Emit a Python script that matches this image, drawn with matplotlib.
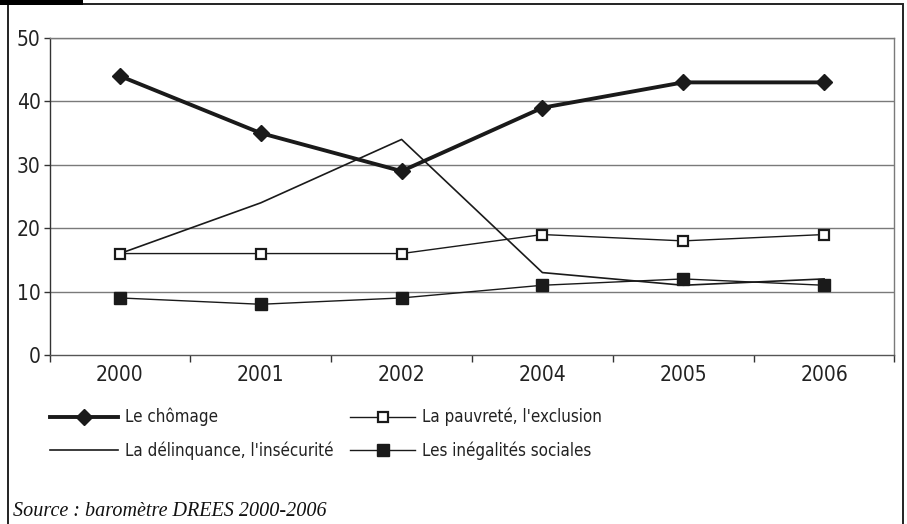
import matplotlib
matplotlib.use("Agg")
import matplotlib.pyplot as plt
from matplotlib import font_manager
from matplotlib.patches import Rectangle
from matplotlib.ticker import FixedLocator

# Préoccupations des Français (en %), baromètre DREES
annees = ["2000", "2001", "2002", "2004", "2005", "2006"]
chomage = [44, 35, 29, 39, 43, 43]
pauvrete = [16, 16, 16, 19, 18, 19]
delinquance = [16, 24, 34, 13, 11, 12]
inegalites = [9, 8, 9, 11, 12, 11]

W, H = 907, 524

# police étroite si disponible
narrow_path = None
for f in font_manager.fontManager.ttflist:
    nm = f.name.lower()
    if ("narrow" in nm or "condensed" in nm or "condensed" in str(f.stretch)) \
            and f.style == "normal" and f.weight in (400, "normal", "regular"):
        narrow_path = f.fname
        break
if narrow_path is None:
    for f in font_manager.fontManager.ttflist:
        if "condensed" in f.fname.lower() and "bold" not in f.fname.lower() \
                and "oblique" not in f.fname.lower():
            narrow_path = f.fname
            break


def nfont(size):
    if narrow_path:
        return font_manager.FontProperties(fname=narrow_path, size=size)
    return font_manager.FontProperties(family="Liberation Sans", size=size * 0.9)


fig = plt.figure(figsize=(W / 100, H / 100), dpi=100)
ax = fig.add_axes([49.5 / W, 1 - 355 / H, 845 / W, 317 / H])

x = range(len(annees))
l1, = ax.plot(x, chomage, color="#1a1a1a", lw=2.8, marker="D", ms=8.5, mfc="#1a1a1a",
              mec="#1a1a1a", label="Le chômage", zorder=5)
l2, = ax.plot(x, delinquance, color="#1a1a1a", lw=1.2,
              label="La délinquance, l'insécurité", zorder=3)
l3, = ax.plot(x, pauvrete, color="#1a1a1a", lw=1.0, marker="s", ms=7, mfc="white",
              mec="#1a1a1a", mew=1.6, label="La pauvreté, l'exclusion", zorder=4)
l4, = ax.plot(x, inegalites, color="#1a1a1a", lw=1.0, marker="s", ms=9, mfc="#1a1a1a",
              mec="#1a1a1a", label="Les inégalités sociales", zorder=4)

ax.set_xlim(-0.5, len(annees) - 0.5)
ax.set_ylim(0, 50)
ax.set_yticks(range(0, 51, 10))
ax.set_xticks(list(x))
ax.set_xticklabels(annees)
ax.xaxis.set_minor_locator(FixedLocator([i - 0.5 for i in range(len(annees) + 1)]))

for v in range(10, 51, 10):
    ax.axhline(v, color="#7a7a7a", lw=1.0, zorder=1)

ax.spines["top"].set_color("#7a7a7a")
ax.spines["right"].set_color("#7a7a7a")
ax.spines["left"].set_color("#333333")
ax.spines["bottom"].set_color("#555555")
for s in ax.spines.values():
    s.set_linewidth(1.0)

ax.tick_params(axis="x", which="major", length=0, pad=7.5)
ax.tick_params(axis="x", which="minor", length=5, width=1, color="#333333", direction="out")
ax.tick_params(axis="y", length=4, width=1, color="#333333", pad=2.5)
for lab in ax.get_xticklabels() + ax.get_yticklabels():
    lab.set_fontproperties(nfont(15))
    lab.set_color("#222222")

# légende en deux colonnes placées séparément
leg_kw = dict(loc="upper left", frameon=False, prop=nfont(12.2),
              handletextpad=0.41, labelspacing=0.9, borderpad=0, borderaxespad=0)
leg1 = fig.legend([l1, l2], [l1.get_label(), l2.get_label()],
                  bbox_to_anchor=(50 / W, 1 - 408 / H), handlelength=4.0, **leg_kw)
leg2 = fig.legend([l3, l4], [l3.get_label(), l4.get_label()],
                  bbox_to_anchor=(350 / W, 1 - 408 / H), handlelength=3.85, **leg_kw)
for lg in (leg1, leg2):
    for t in lg.get_texts():
        t.set_color("#222222")

fig.text(13 / W, 1 - 516 / H, "Source : baromètre DREES 2000-2006",
         family="Liberation Serif", style="italic", fontsize=14.5, va="baseline",
         color="#111111")

# cadre et onglet
fig.patches.append(Rectangle((8 / W, -0.05), 895 / W, 1.05 - 3.5 / H,
                             transform=fig.transFigure, fill=False,
                             ec="#222222", lw=1.4))
fig.patches.append(Rectangle((0, 1 - 4.5 / H), 83 / W, 4.5 / H,
                             transform=fig.transFigure, fc="black", ec="none"))

fig.savefig("out.png", dpi=100)
